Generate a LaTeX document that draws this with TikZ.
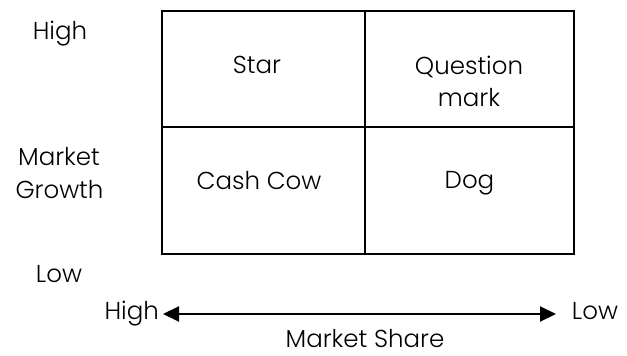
\documentclass[tikz,border=0pt]{standalone}
\usepackage{fontspec}
\setmainfont{Poppins}[UprightFont={* Light}]
\usetikzlibrary{arrows.meta}
\begin{document}
\begin{tikzpicture}[x=1pt,y=-1pt,
  lbl/.style={font=\fontsize{24.5}{32}\selectfont, inner sep=0pt, anchor=base},
  cell/.style={draw, line width=2pt, inner sep=0pt}]
  \useasboundingbox (0,0) rectangle (627,356);
  % BCG matrix cells
  \node[cell, minimum width=203pt, minimum height=116pt] (star) at (263.5,69) {};
  \node[cell, minimum width=209pt, minimum height=116pt] (qm) at (469.5,69) {};
  \node[cell, minimum width=203pt, minimum height=127pt] (cow) at (263.5,190.5) {};
  \node[cell, minimum width=209pt, minimum height=127pt] (dog) at (469.5,190.5) {};
  % cell captions
  \node[lbl] (tstar) at (257,73) {Star};
  \node[lbl] (tq1) at (469,74) {Question};
  \node[lbl] (tq2) at (469,106) {mark};
  \node[lbl] (tcow) at (259,189) {Cash Cow};
  \node[lbl] (tdog) at (469.5,188) {Dog};
  % vertical axis labels
  \node[lbl] (ghigh) at (60,39) {High};
  \node[lbl] (gm1) at (59,165) {Market};
  \node[lbl] (gm2) at (59.5,198) {Growth};
  \node[lbl] (glow) at (59,282) {Low};
  % horizontal axis
  \node[lbl, anchor=base east] (shigh) at (159,319) {High};
  \node[lbl] (slow) at (595,319) {Low};
  \coordinate (al) at (163,314);
  \coordinate (ar) at (556,314);
  \draw[line width=2pt, {Triangle[length=16pt,width=15pt]}-{Triangle[length=16pt,width=15pt]}] (al) -- (ar);
  \node[lbl] (share) at (365,347.5) {Market Share};
\end{tikzpicture}
\end{document}
